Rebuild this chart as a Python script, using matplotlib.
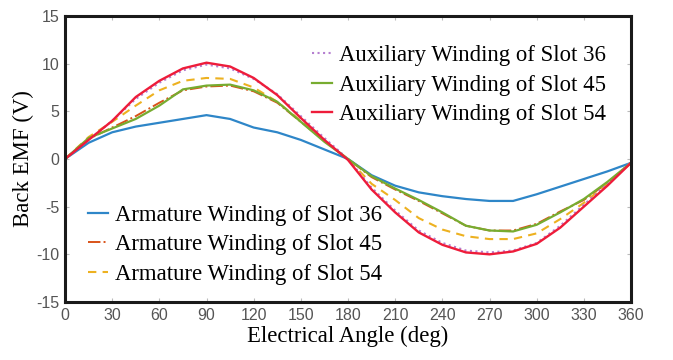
import matplotlib.pyplot as plt
import numpy as np

# electrical angle (deg), 15 deg steps
angle = np.arange(0, 361, 15)

arm_slot36 = [0, 1.7, 2.8, 3.4, 3.8, 4.2, 4.6, 4.2, 3.3, 2.8, 2.0, 1.0, 0,
              -1.7, -2.8, -3.5, -3.9, -4.2, -4.4, -4.4, -3.7, -2.9, -2.1, -1.3, -0.4]
arm_slot45 = [0, 2.1, 3.3, 4.5, 5.9, 7.2, 7.6, 7.7, 7.1, 5.9, 3.9, 1.9, 0,
              -1.9, -3.2, -4.4, -5.7, -7.0, -7.5, -7.5, -6.8, -5.5, -4.3, -2.5, -0.4]
arm_slot54 = [0, 2.3, 3.9, 5.6, 7.2, 8.2, 8.5, 8.4, 7.5, 6.0, 4.0, 1.9, 0,
              -2.6, -4.3, -6.2, -7.4, -8.1, -8.4, -8.4, -7.8, -6.3, -4.6, -2.6, -0.4]
aux_slot36 = [0, 2.0, 4.0, 6.3, 8.0, 9.3, 9.9, 9.5, 8.4, 6.8, 4.5, 2.2, 0,
              -3.0, -5.4, -7.5, -8.8, -9.6, -9.8, -9.6, -8.8, -7.0, -4.8, -2.6, -0.3]
aux_slot45 = [0, 2.2, 3.2, 4.2, 5.6, 7.3, 7.7, 7.8, 7.2, 6.0, 3.9, 1.8, 0,
              -1.8, -3.1, -4.3, -5.6, -7.0, -7.5, -7.6, -6.9, -5.6, -4.2, -2.4, -0.4]
aux_slot54 = [0, 2.0, 4.0, 6.5, 8.2, 9.5, 10.1, 9.7, 8.5, 6.7, 4.3, 2.0, -0.1,
              -3.2, -5.6, -7.7, -9.0, -9.8, -10.0, -9.7, -8.9, -7.2, -5.0, -2.8, -0.4]

xticks = np.arange(0, 361, 30)
yticks = np.arange(-15, 16, 5)

serif = 'Liberation Serif'
sans = 'Liberation Sans'
plt.rcParams['axes.unicode_minus'] = False

fig = plt.figure(figsize=(6.73, 3.6), dpi=100)
ax = fig.add_axes([0.0966, 0.1611, 0.8410, 0.7945])

l_arm36, = ax.plot(angle, arm_slot36, color='#2E86C8', lw=1.6, ls='-')
l_arm45, = ax.plot(angle, arm_slot45, color='#D95319', lw=1.4, ls='-.')
l_arm54, = ax.plot(angle, arm_slot54, color='#EDB120', lw=1.5, ls=(0, (4, 3)))
l_aux36, = ax.plot(angle, aux_slot36, color='#B57FD0', lw=1.5, ls=':')
l_aux45, = ax.plot(angle, aux_slot45, color='#77AC30', lw=1.6, ls='-')
l_aux54, = ax.plot(angle, aux_slot54, color='#EE1C3A', lw=1.7, ls='-')

ax.set_xlim(0, 360)
ax.set_ylim(-15, 15)
ax.set_xticks(xticks)
ax.set_yticks(yticks)
ax.tick_params(direction='in', length=3, width=0.8, color='#BBBBBB',
               top=True, right=True, labelsize=11.5, labelcolor='#555555', pad=4)
for lbl in ax.get_xticklabels() + ax.get_yticklabels():
    lbl.set_family(sans)
for s in ax.spines.values():
    s.set_linewidth(2.2)
    s.set_color('#1A1A1A')

ax.set_xlabel('Electrical Angle (deg)', family=serif, fontsize=16.4, labelpad=2)
ax.set_ylabel('Back EMF (V)', family=serif, fontsize=16.4, labelpad=2)

leg_kw = dict(frameon=False, prop={'family': serif, 'size': 16.4}, handlelength=0.9,
              handletextpad=0.3, labelspacing=0.36, borderpad=0, borderaxespad=0,
              loc='upper left')
leg1 = ax.legend([l_aux36, l_aux45, l_aux54],
                 ['Auxiliary Winding of Slot 36', 'Auxiliary Winding of Slot 45',
                  'Auxiliary Winding of Slot 54'],
                 bbox_to_anchor=(0.436, 0.8975), **leg_kw)
ax.add_artist(leg1)
ax.legend([l_arm36, l_arm45, l_arm54],
          ['Armature Winding of Slot 36', 'Armature Winding of Slot 45',
           'Armature Winding of Slot 54'],
          bbox_to_anchor=(0.040, 0.3385), **leg_kw)

fig.savefig('out.png', dpi=100)
